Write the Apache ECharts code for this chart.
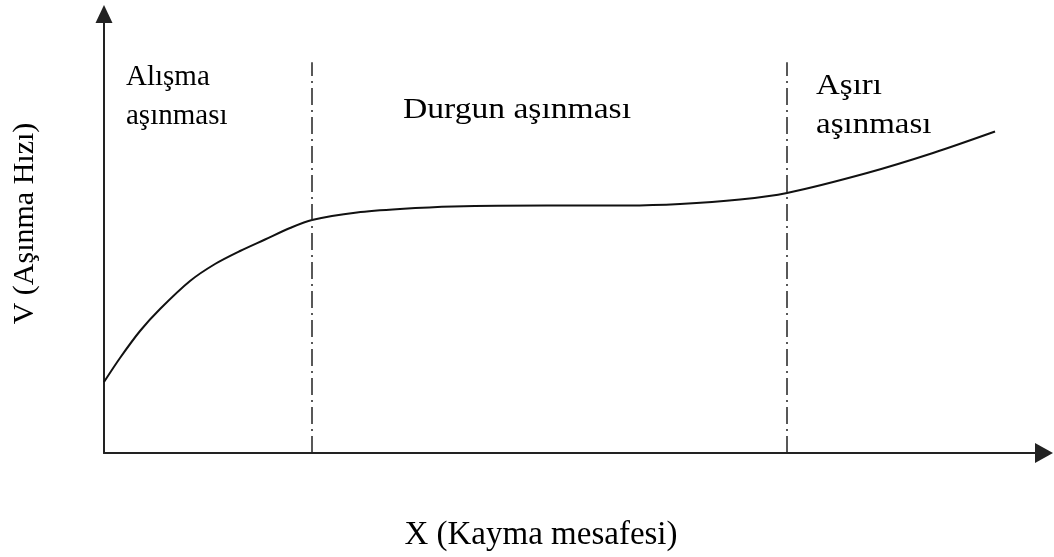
<!DOCTYPE html>
<html>
<head>
<meta charset="utf-8">
<script src="https://cdn.jsdelivr.net/npm/echarts@6/dist/echarts.min.js"></script>
<style>
  html, body { margin: 0; padding: 0; background: #fff; }
  #chart { width: 1054px; height: 557px; }
</style>
</head>
<body>
<div id="chart"></div>
<script>
// Wear-rate curve over sliding distance (arbitrary units, 0..100 on both axes)
const slidingDistance = [0, 1.70, 3.83, 5.96, 9.15, 11.81, 14.47, 17.13, 19.79, 22.13, 26.91, 31.49, 37.13, 47.13, 55.64, 61.28, 67.66, 72.66, 81.17, 88.19, 94.79];
const wearRate        = [16.17, 21.64, 27.79, 32.80, 39.18, 43.05, 46.01, 48.63, 51.25, 53.08, 54.78, 55.58, 56.15, 56.38, 56.38, 56.72, 57.74, 59.23, 63.78, 68.34, 73.23];

// Boundaries between the three wear regimes
const regimeBounds = [22.13, 72.66];
const boundTop = 89;

const xTitle = 'X (Kayma mesafesi)';
const yTitle = 'V (Aşınma Hızı)';

const FONT = '"Liberation Serif", "Times New Roman", serif';

const chart = echarts.init(document.getElementById('chart'), null, { renderer: 'canvas' });

const curve = slidingDistance.map((x, i) => [x, wearRate[i]]);

chart.setOption({
  animation: false,
  backgroundColor: '#fff',
  grid: { left: 104, right: 10, top: 14, bottom: 104, containLabel: false },
  xAxis: {
    type: 'value', min: 0, max: 100,
    name: xTitle, nameLocation: 'middle', nameGap: 66,
    nameTextStyle: { fontFamily: FONT, fontSize: 33, color: '#000', padding: [0, 66, 0, 0] },
    axisLine: { show: true, symbol: ['none', 'triangle'], symbolSize: [20, 18],
                lineStyle: { color: '#222', width: 2 } },
    axisTick: { show: false }, axisLabel: { show: false }, splitLine: { show: false }
  },
  yAxis: {
    type: 'value', min: 0, max: 100,
    name: yTitle, nameLocation: 'middle', nameGap: 64, nameRotate: 90,
    nameTextStyle: { fontFamily: FONT, fontSize: 30, color: '#000', padding: [0, 0, 0, 20] },
    axisLine: { show: true, symbol: ['none', 'triangle'], symbolSize: [17, 18],
                lineStyle: { color: '#222', width: 2 } },
    axisTick: { show: false }, axisLabel: { show: false }, splitLine: { show: false }
  },
  series: [
    {
      type: 'line',
      data: curve,
      smooth: 0.3,
      showSymbol: false,
      lineStyle: { color: '#111', width: 2 },
      markLine: {
        silent: true,
        symbol: ['none', 'none'],
        label: { show: false },
        lineStyle: { color: '#222', width: 1.5, type: [17, 5, 2, 5] },
        data: regimeBounds.map(b => [{ coord: [b, 0] }, { coord: [b, boundTop] }])
      }
    }
  ],
  graphic: [
    { type: 'text', left: 126, top: 63,
      style: { text: 'Alışma', font: '29px ' + FONT, fill: '#000' } },
    { type: 'text', left: 126, top: 102,
      style: { text: 'aşınması', font: '29px ' + FONT, fill: '#000' } },
    { type: 'text', x: 403, y: 95, scaleX: 1.12,
      style: { text: 'Durgun aşınması', font: '30px ' + FONT, fill: '#000' } },
    { type: 'text', x: 816, y: 71, scaleX: 1.1,
      style: { text: 'Aşırı', font: '30px ' + FONT, fill: '#000' } },
    { type: 'text', x: 816, y: 110, scaleX: 1.1,
      style: { text: 'aşınması', font: '30px ' + FONT, fill: '#000' } }
  ]
});
</script>
</body>
</html>
